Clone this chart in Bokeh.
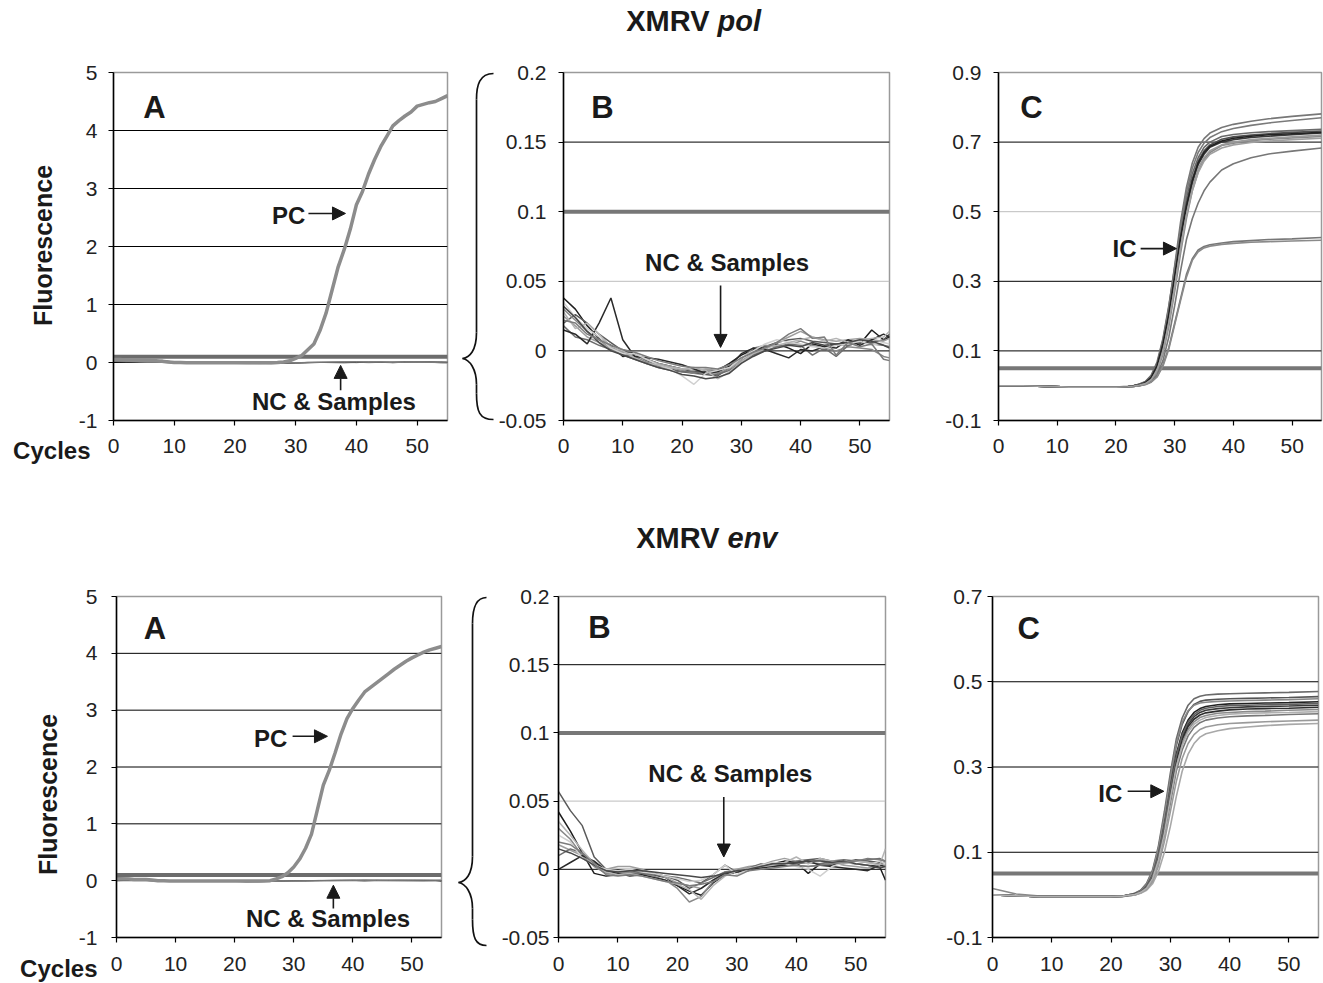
import math
from bokeh.plotting import figure
from bokeh.layouts import row, column
from bokeh.models import (Range1d, FixedTicker, Span, Label, Arrow, NormalHead,
                          NumeralTickFormatter, ColumnDataSource)
from bokeh.embed import file_html
from bokeh.resources import INLINE

FONT = "Liberation Sans"
INK = "#1a1a1a"

# ---------------- data ----------------
X_TICKS = [0, 10, 20, 30, 40, 50]
A_YTICKS = [-1, 0, 1, 2, 3, 4, 5]
B_YTICKS = [-0.05, 0, 0.05, 0.1, 0.15, 0.2]
C_YTICKS_POL = [-0.1, 0.1, 0.3, 0.5, 0.7, 0.9]
C_YTICKS_ENV = [-0.1, 0.1, 0.3, 0.5, 0.7]

THRESH_PC = 0.1
THRESH_IC = 0.05

CYCLES = list(range(56))
POL_PC = [0.05, 0.05, 0.045, 0.04, 0.04, 0.04, 0.035, 0.03, 0.02, 0.01,
          0.0, 0.0, -0.005, -0.005, -0.005, -0.005, -0.005, -0.005, -0.005, -0.005,
          -0.005, -0.005, -0.005, -0.005, -0.005, -0.005, -0.005, 0.0, 0.01, 0.03,
          0.07, 0.12, 0.22, 0.32, 0.55, 0.85, 1.25, 1.65, 1.95, 2.3,
          2.72, 2.95, 3.25, 3.5, 3.72, 3.9, 4.08, 4.17, 4.25, 4.32,
          4.42, 4.45, 4.48, 4.5, 4.55, 4.6]
ENV_PC = [0.03, 0.03, 0.03, 0.02, 0.02, 0.02, 0.01, 0.0, 0.0, -0.005,
          -0.005, -0.005, -0.005, -0.005, -0.005, -0.005, -0.005, -0.005, -0.005, -0.005,
          -0.005, -0.005, -0.005, -0.005, -0.005, -0.005, 0.0, 0.03, 0.07, 0.14,
          0.24, 0.38, 0.57, 0.82, 1.25, 1.68, 1.94, 2.25, 2.58, 2.85,
          3.03, 3.18, 3.32, 3.4, 3.48, 3.56, 3.64, 3.72, 3.79, 3.86,
          3.92, 3.97, 4.02, 4.06, 4.09, 4.12]

# negative controls & samples (fluorescence x 1000)
NC_X = [0, 2, 4, 6, 8, 10, 12, 14, 16, 18, 20, 22, 24, 26, 28, 30, 32, 34, 36, 38,
        40, 42, 44, 46, 48, 50, 52, 54, 55]
POL_NC_MILLI = [
    [38, 30, 18, 9, 4, -4, -3, -6, -9, -11, -13, -15, -15, -14, -9, -3, 1, 3, 5, 2, -2, 5, 3, 4, 8, 5, 15, 8, 10],
    [20, 26, 20, 12, 6, 0, -2, -7, -10, -13, -15, -16, -17, -18, -12, -5, -1, 3, 6, 8, 9, 7, 6, 5, 4, 6, 6, 8, 12],
    [30, 22, 14, 8, 2, -2, -4, -8, -11, -12, -14, -16, -14, -16, -13, -6, 2, 4, 3, 4, 7, 4, 2, 0, 3, 2, 1, -4, -5],
    [25, 18, 10, 6, 2, -1, -3, -6, -9, -11, -13, -14, -13, -14, -12, -7, -2, 1, 6, 10, 14, 10, 8, 7, 8, 9, 8, 7, 9],
    [18, 10, 8, 4, 1, -3, -6, -9, -12, -14, -15, -15, -16, -17, -14, -8, -3, 0, 3, 5, 4, -3, 2, -4, 4, 6, 5, 4, 3],
    [15, 12, 5, 20, 38, 8, -4, -5, -6, -8, -10, -13, -16, -15, -11, -2, 2, 1, -2, -5, 1, 0, 3, 2, 8, 4, 8, 12, 10],
    [35, 24, 16, 10, 2, -2, -2, -6, -10, -13, -18, -24, -16, -14, -12, -5, 0, 5, 8, 6, 5, 3, 2, 4, 5, 7, 4, 6, 5],
    [28, 16, 20, 12, 3, 0, -5, -9, -10, -12, -13, -12, -14, -20, -15, -8, -2, 2, 4, 6, 8, 10, 7, 9, 6, 8, 9, 10, 14],
    [32, 24, 14, 6, 0, -3, -6, -9, -12, -14, -17, -18, -20, -19, -16, -9, -4, 0, 2, 4, 3, 6, 4, 5, 6, 8, 7, 4, 2],
    [22, 20, 12, 8, 4, 1, -1, -4, -7, -9, -11, -12, -12, -13, -10, -5, -1, 2, 6, 12, 16, 9, 10, -3, 6, 3, 5, -6, -7],
]
ENV_NC_MILLI = [
    [42, 28, 12, -3, -5, -4, -3, -2, -4, -6, -12, -16, -19, -10, -4, -2, 1, 3, 4, 6, 5, -3, 4, 3, 5, 4, 3, 2, -8],
    [57, 43, 32, 9, 0, -2, -1, -2, -3, -5, -8, -14, -10, -4, 3, -2, -1, 2, 3, 4, 6, 7, 8, 6, 5, 7, 6, 5, 4],
    [30, 22, 10, 2, -3, -3, -2, -3, -5, -8, -14, -24, -20, -9, -4, -2, 0, 2, 3, 4, 3, 2, 3, 5, 4, 6, 5, 4, 6],
    [18, 14, 10, 5, 0, 2, 2, 0, -3, -6, -10, -12, -14, -8, -2, 0, 2, 3, 6, 8, 6, 5, 7, 5, 3, 2, 1, 2, 5],
    [10, 15, 12, 5, -2, -4, -3, -3, -4, -5, -6, -8, -10, -6, -2, -1, 1, 4, 2, 3, 4, 5, 4, 6, 7, 6, 7, 8, 6],
    [0, 5, 10, 6, -1, -3, -5, -4, -6, -8, -12, -18, -14, -8, -3, -2, 0, 1, 2, 3, 5, 6, 3, 2, 1, 0, -1, 3, 2],
    [25, 20, 8, 3, 0, -1, 0, -2, -3, -5, -7, -9, -8, -4, 3, -4, 0, 3, 5, 4, 2, 0, -5, 2, 5, 4, 3, 6, 4],
    [35, 25, 14, 4, -2, -4, -3, -5, -7, -9, -11, -15, -22, -12, -5, -1, 1, 2, 3, 5, 9, 4, 8, 6, 5, 6, 5, 3, 15],
    [15, 12, 8, 3, -1, -2, -1, -1, -2, -3, -4, -5, -6, -5, -3, -1, 0, 2, 4, 4, 5, 6, 6, 5, 6, 4, 3, 1, 2],
    [20, 18, 12, 4, -4, -5, -4, -5, -7, -9, -10, -12, -11, -9, -4, -5, -1, 0, 1, 2, 3, 2, 3, 4, 5, 6, 8, 7, 6],
]
NC_COLORS = ["#1e1e1e", "#5a5a5a", "#8a8a8a", "#9e9e9e", "#6e6e6e",
             "#2a2a2a", "#d0d0d0", "#b4b4b4", "#484848", "#7c7c7c"]

# internal controls
IC_X = [0, 4, 8, 12, 16, 20, 22, 23, 24, 25, 26, 27, 28, 29, 30, 31, 32, 33, 34, 35,
        36, 38, 40, 43, 46, 50, 55]
POL_IC = [
    [0, 0, -0.002, -0.004, -0.004, -0.004, -0.003, -0.001, 0.003, 0.008, 0.022, 0.055, 0.115, 0.2, 0.31, 0.42, 0.51, 0.58, 0.635, 0.665, 0.685, 0.70, 0.707, 0.713, 0.717, 0.721, 0.726],
    [0, 0, -0.002, -0.004, -0.004, -0.004, -0.002, 0, 0.005, 0.012, 0.03, 0.068, 0.135, 0.23, 0.34, 0.45, 0.54, 0.61, 0.655, 0.685, 0.7, 0.716, 0.722, 0.727, 0.73, 0.733, 0.737],
    [0, 0, -0.002, -0.004, -0.004, -0.004, -0.004, -0.002, 0.001, 0.005, 0.015, 0.04, 0.09, 0.17, 0.27, 0.38, 0.48, 0.56, 0.615, 0.65, 0.67, 0.69, 0.697, 0.704, 0.708, 0.712, 0.716],
    [0, 0, -0.002, -0.004, -0.004, -0.004, -0.003, 0, 0.004, 0.01, 0.026, 0.06, 0.125, 0.215, 0.325, 0.435, 0.525, 0.595, 0.645, 0.675, 0.692, 0.708, 0.715, 0.72, 0.724, 0.728, 0.732],
    [0, 0, -0.002, -0.004, -0.004, -0.004, -0.003, -0.001, 0.002, 0.007, 0.019, 0.048, 0.105, 0.19, 0.295, 0.405, 0.5, 0.57, 0.625, 0.655, 0.675, 0.692, 0.7, 0.707, 0.711, 0.715, 0.72],
    [0, 0, -0.002, -0.004, -0.004, -0.004, -0.003, 0, 0.004, 0.011, 0.028, 0.063, 0.13, 0.225, 0.345, 0.47, 0.57, 0.64, 0.685, 0.71, 0.726, 0.742, 0.751, 0.76, 0.767, 0.774, 0.781],
    [0, 0, -0.002, -0.004, -0.004, -0.004, -0.003, 0, 0.003, 0.009, 0.024, 0.056, 0.12, 0.21, 0.33, 0.455, 0.555, 0.625, 0.67, 0.697, 0.713, 0.73, 0.739, 0.748, 0.755, 0.762, 0.77],
    [0, 0, -0.002, -0.004, -0.004, -0.004, -0.004, -0.002, 0, 0.004, 0.012, 0.032, 0.072, 0.14, 0.23, 0.33, 0.42, 0.48, 0.525, 0.56, 0.585, 0.62, 0.638, 0.655, 0.666, 0.674, 0.683],
    [0, 0, -0.002, -0.004, -0.004, -0.004, -0.004, -0.002, 0, 0.004, 0.011, 0.027, 0.06, 0.11, 0.18, 0.25, 0.32, 0.365, 0.39, 0.4, 0.405, 0.41, 0.414, 0.417, 0.42, 0.422, 0.426],
    [0, 0, -0.002, -0.004, -0.004, -0.004, -0.004, -0.002, 0, 0.003, 0.01, 0.025, 0.056, 0.105, 0.175, 0.245, 0.312, 0.36, 0.385, 0.396, 0.401, 0.406, 0.409, 0.412, 0.414, 0.416, 0.418],
    [0, 0, -0.002, -0.004, -0.004, -0.004, -0.003, 0, 0.003, 0.009, 0.024, 0.058, 0.12, 0.205, 0.315, 0.425, 0.515, 0.588, 0.64, 0.67, 0.688, 0.703, 0.711, 0.717, 0.721, 0.724, 0.728],
    [0, 0, -0.002, -0.004, -0.004, -0.004, -0.003, -0.001, 0.002, 0.006, 0.017, 0.044, 0.098, 0.18, 0.285, 0.395, 0.49, 0.56, 0.612, 0.645, 0.665, 0.683, 0.692, 0.699, 0.703, 0.707, 0.711],
]
ENV_IC = [
    [0, -0.002, -0.004, -0.004, -0.004, -0.004, -0.003, -0.001, 0.002, 0.008, 0.02, 0.045, 0.095, 0.16, 0.245, 0.32, 0.37, 0.4, 0.418, 0.428, 0.433, 0.437, 0.439, 0.441, 0.442, 0.443, 0.445],
    [0, -0.002, -0.004, -0.004, -0.004, -0.004, -0.003, 0, 0.004, 0.011, 0.027, 0.058, 0.115, 0.195, 0.285, 0.365, 0.415, 0.445, 0.46, 0.466, 0.469, 0.471, 0.472, 0.473, 0.474, 0.475, 0.477],
    [0, -0.002, -0.004, -0.004, -0.004, -0.004, -0.003, 0, 0.003, 0.01, 0.024, 0.053, 0.107, 0.182, 0.27, 0.35, 0.4, 0.43, 0.447, 0.454, 0.457, 0.459, 0.46, 0.461, 0.462, 0.463, 0.465],
    [0, -0.002, -0.004, -0.004, -0.004, -0.004, -0.003, -0.001, 0.002, 0.009, 0.022, 0.049, 0.1, 0.17, 0.255, 0.33, 0.38, 0.41, 0.428, 0.437, 0.442, 0.446, 0.448, 0.449, 0.45, 0.451, 0.453],
    [0, -0.002, -0.004, -0.004, -0.004, -0.004, -0.003, -0.001, 0.001, 0.006, 0.017, 0.04, 0.085, 0.15, 0.23, 0.305, 0.355, 0.388, 0.406, 0.416, 0.421, 0.426, 0.428, 0.43, 0.431, 0.433, 0.435],
    [0, -0.002, -0.004, -0.004, -0.004, -0.004, -0.004, -0.002, 0, 0.005, 0.015, 0.036, 0.078, 0.14, 0.215, 0.29, 0.34, 0.373, 0.393, 0.404, 0.41, 0.415, 0.418, 0.42, 0.421, 0.423, 0.425],
    [0, -0.002, -0.004, -0.004, -0.004, -0.004, -0.004, -0.002, 0, 0.004, 0.011, 0.026, 0.055, 0.1, 0.16, 0.23, 0.29, 0.33, 0.355, 0.37, 0.378, 0.385, 0.39, 0.394, 0.397, 0.4, 0.402],
    [0, -0.002, -0.004, -0.004, -0.004, -0.004, -0.004, -0.002, 0, 0.005, 0.013, 0.031, 0.068, 0.125, 0.195, 0.265, 0.32, 0.355, 0.376, 0.388, 0.394, 0.399, 0.402, 0.404, 0.406, 0.408, 0.41],
    [0.015, 0.002, -0.003, -0.004, -0.004, -0.004, -0.003, 0, 0.003, 0.01, 0.025, 0.055, 0.11, 0.185, 0.275, 0.355, 0.405, 0.432, 0.445, 0.45, 0.452, 0.454, 0.455, 0.456, 0.457, 0.458, 0.46],
    [0, -0.002, -0.004, -0.004, -0.004, -0.004, -0.003, -0.001, 0.002, 0.007, 0.019, 0.043, 0.09, 0.155, 0.24, 0.315, 0.365, 0.395, 0.412, 0.422, 0.427, 0.431, 0.434, 0.436, 0.437, 0.438, 0.44],
    [0, -0.002, -0.004, -0.004, -0.004, -0.004, -0.003, -0.001, 0.002, 0.008, 0.021, 0.047, 0.097, 0.165, 0.25, 0.325, 0.375, 0.405, 0.423, 0.433, 0.438, 0.442, 0.444, 0.445, 0.446, 0.447, 0.449],
    [0, -0.002, -0.004, -0.004, -0.004, -0.004, -0.003, -0.001, 0.001, 0.006, 0.016, 0.038, 0.082, 0.145, 0.225, 0.3, 0.35, 0.382, 0.4, 0.41, 0.416, 0.421, 0.424, 0.426, 0.427, 0.428, 0.43],
]
IC_COLORS = ["#3a3a3a", "#6a6a6a", "#888888", "#505050", "#9a9a9a", "#777777",
             "#7a7a7a", "#777777", "#777777", "#8a8a8a", "#222222", "#a0a0a0"]
ENV_IC_COLORS = ["#3a3a3a", "#6a6a6a", "#555555", "#222222", "#8a8a8a", "#777777",
                 "#a8a8a8", "#9a9a9a", "#888888", "#2e2e2e", "#606060", "#b0b0b0"]

PAGE_W, PAGE_H = 1320, 982


# ---------------- helpers ----------------
def base_fig(fw, fh, bl, br, bt, bb, ylo, yhi, yticks, x_standoff, y_standoff):
    p = figure(frame_width=fw, frame_height=fh,
               min_border_left=bl, min_border_right=br,
               min_border_top=bt, min_border_bottom=bb,
               x_range=Range1d(0, 55), y_range=Range1d(ylo, yhi),
               output_backend="svg", toolbar_location=None, tools="")
    p.background_fill_color = "white"
    p.border_fill_color = "white"
    p.outline_line_color = "#9a9a9a"
    p.outline_line_width = 1.5
    p.xgrid.visible = False
    p.ygrid.visible = False
    p.xaxis.ticker = FixedTicker(ticks=X_TICKS)
    p.yaxis.ticker = FixedTicker(ticks=yticks)
    for ax in (p.xaxis[0], p.yaxis[0]):
        ax.formatter = NumeralTickFormatter(format="0.[00]")
        ax.axis_line_color = "black"
        ax.axis_line_width = 1.5
        ax.major_tick_out = 5
        ax.major_tick_in = 0
        ax.major_tick_line_color = "black"
        ax.major_tick_line_width = 1.2
        ax.minor_tick_line_color = None
        ax.major_label_text_font = FONT
        ax.major_label_text_font_size = "21px"
        ax.major_label_text_color = "#222222"
    p.xaxis.major_label_standoff = x_standoff
    p.yaxis.major_label_standoff = y_standoff
    return p


def gridlines(p, spec):
    for val, col in spec:
        p.add_layout(Span(location=val, dimension="width", line_color=col,
                          line_width=1, level="underlay"))


def threshold(p, val, color):
    p.add_layout(Span(location=val, dimension="width", line_color=color,
                      line_width=4, level="underlay"))


def curves(p, xs, ys_list, colors, width):
    src = ColumnDataSource(dict(xs=[xs] * len(ys_list), ys=ys_list, c=colors))
    p.multi_line(xs="xs", ys="ys", line_color="c", line_width=width, source=src)


def txt(p, x, y, s, size, align="left", style="bold", angle=0.0):
    p.add_layout(Label(x=x, y=y, text=s, text_font=FONT, text_font_size=f"{size}px",
                       text_font_style=style, text_align=align, text_baseline="middle",
                       text_color=INK, angle=angle))


def arrow(p, x0, y0, x1, y1):
    p.add_layout(Arrow(end=NormalHead(size=13, fill_color=INK, line_color=INK, line_width=1),
                       x_start=x0, y_start=y0, x_end=x1, y_end=y1,
                       line_color=INK, line_width=1.6))


def brace(p, tip, top_end, bot_end, spine, r):
    tx, ty = tip
    ex, ey0 = top_end
    _, ey1 = bot_end
    p.bezier(x0=[ex, spine, tx, spine], y0=[ey0, ty - r, ty, ey1 - r],
             x1=[spine, tx, spine, ex], y1=[ey0 + r, ty, ty + r, ey1],
             cx0=[spine + 3, spine, (spine + tx) / 2, spine],
             cy0=[ey0, ty - r * 0.3, ty + 1, ey1 - r * 0.3],
             cx1=[spine, (spine + tx) / 2, spine, spine + 3],
             cy1=[ey0 + r * 0.45, ty - 1, ty + r * 0.4, ey1],
             line_color="#111111", line_width=1.7)
    p.segment(x0=[spine, spine], y0=[ey0 + r, ty + r], x1=[spine, spine], y1=[ty - r, ey1 - r],
              line_color="#111111", line_width=1.7)


POL_NC = [[v / 1000 for v in c] for c in POL_NC_MILLI]
ENV_NC = [[v / 1000 for v in c] for c in ENV_NC_MILLI]

# ================= top row : XMRV pol =================
a1 = base_fig(334, 348, 113, 48, 72, 68, -1, 5, A_YTICKS, 13, 11)
gridlines(a1, [(0, "black"), (1, "black"), (2, "black"), (3, "black"), (4, "black")])
curves(a1, NC_X, POL_NC, NC_COLORS, 1.0)
threshold(a1, THRESH_PC, "#6c6c6c")
a1.line(CYCLES, POL_PC, line_color="#8c8c8c", line_width=3.5)
txt(a1, 4.9, 4.4, "A", 31)
txt(a1, 31.6, 2.53, "PC", 24, align="right")
arrow(a1, 32.1, 2.57, 38.2, 2.57)
txt(a1, 36.3, -0.67, "NC & Samples", 24, align="center")
arrow(a1, 37.4, -0.48, 37.4, -0.05)

b1 = base_fig(326, 348, 65, 44, 72, 68, -0.05, 0.2, B_YTICKS, 13, 12)
gridlines(b1, [(0, "black"), (0.05, "#bdbdbd"), (0.15, "black")])
threshold(b1, THRESH_PC, "#777777")
curves(b1, NC_X, POL_NC, NC_COLORS, 1.5)
txt(b1, 4.7, 0.175, "B", 31)
txt(b1, 27.6, 0.0635, "NC & Samples", 24, align="center")
arrow(b1, 26.5, 0.047, 26.5, 0.0025)

c1 = base_fig(323, 348, 65, 2, 72, 68, -0.1, 0.9, C_YTICKS_POL, 13, 12)
gridlines(c1, [(0.1, "black"), (0.3, "black"), (0.5, "#bdbdbd"), (0.7, "black")])
threshold(c1, THRESH_IC, "#777777")
curves(c1, IC_X, POL_IC, IC_COLORS, 1.6)
txt(c1, 3.7, 0.80, "C", 31)
txt(c1, 23.5, 0.394, "IC", 24, align="right")
arrow(c1, 24.2, 0.394, 30.3, 0.394)

# ================= bottom row : XMRV env =================
a2 = base_fig(325, 341, 116, 52, 108, 45, -1, 5, A_YTICKS, 14, 14)
gridlines(a2, [(0, "black"), (1, "black"), (2, "black"), (3, "black"), (4, "black")])
curves(a2, NC_X, ENV_NC, NC_COLORS, 1.0)
threshold(a2, THRESH_PC, "#6c6c6c")
a2.line(CYCLES, ENV_PC, line_color="#8c8c8c", line_width=3.5)
txt(a2, 4.6, 4.44, "A", 31)
txt(a2, 28.9, 2.50, "PC", 24, align="right")
arrow(a2, 29.8, 2.54, 35.7, 2.54)
txt(a2, 35.8, -0.66, "NC & Samples", 24, align="center")
arrow(a2, 36.7, -0.49, 36.7, -0.08)

b2 = base_fig(327, 341, 65, 42, 108, 45, -0.05, 0.2, B_YTICKS, 14, 4)
gridlines(b2, [(0, "black"), (0.05, "#bdbdbd"), (0.15, "black")])
threshold(b2, THRESH_PC, "#777777")
curves(b2, NC_X, ENV_NC, NC_COLORS, 1.5)
txt(b2, 5.0, 0.177, "B", 31)
txt(b2, 28.9, 0.070, "NC & Samples", 24, align="center")
arrow(b2, 27.8, 0.053, 27.8, 0.009)

c2 = base_fig(326, 341, 65, 2, 108, 45, -0.1, 0.7, C_YTICKS_ENV, 14, 5)
gridlines(c2, [(0.1, "black"), (0.3, "black"), (0.5, "black")])
threshold(c2, THRESH_IC, "#777777")
curves(c2, IC_X, ENV_IC, ENV_IC_COLORS, 1.6)
txt(c2, 4.2, 0.625, "C", 31)
txt(c2, 21.9, 0.238, "IC", 24, align="right")
arrow(c2, 22.8, 0.243, 28.9, 0.243)

# ================= overlay for titles, axis captions and braces =================
ov = figure(frame_width=PAGE_W, frame_height=PAGE_H,
            x_range=Range1d(0, PAGE_W), y_range=Range1d(PAGE_H, 0),
            min_border_left=0, min_border_right=0, min_border_top=0, min_border_bottom=0,
            x_axis_location=None, y_axis_location=None,
            output_backend="svg", toolbar_location=None, tools="")
ov.grid.visible = False
ov.outline_line_color = None
ov.background_fill_color = None
ov.border_fill_color = None
try:
    ov.frame_align = False
except Exception:
    pass

txt(ov, 709, 20, "XMRV", 29, align="right")
txt(ov, 717, 20, "pol", 29, align="left", style="bold italic")
txt(ov, 719, 537, "XMRV", 29, align="right")
txt(ov, 727, 537, "env", 29, align="left", style="bold italic")
txt(ov, 90, 450, "Cycles", 24, align="right")
txt(ov, 97, 968, "Cycles", 24, align="right")
txt(ov, 42, 245, "Fluorescence", 25, align="center", angle=math.pi / 2)
txt(ov, 47, 794, "Fluorescence", 25, align="center", angle=math.pi / 2)
brace(ov, tip=(462, 358), top_end=(493, 73), bot_end=(493, 419), spine=476, r=26)
brace(ov, tip=(458, 882), top_end=(486, 597), bot_end=(486, 945), spine=472, r=26)
ov.margin = (-PAGE_H, 0, 0, 0)

layout = column(row(a1, b1, c1), row(a2, b2, c2), ov)

open("out.html", "w").write(file_html(layout, INLINE))
